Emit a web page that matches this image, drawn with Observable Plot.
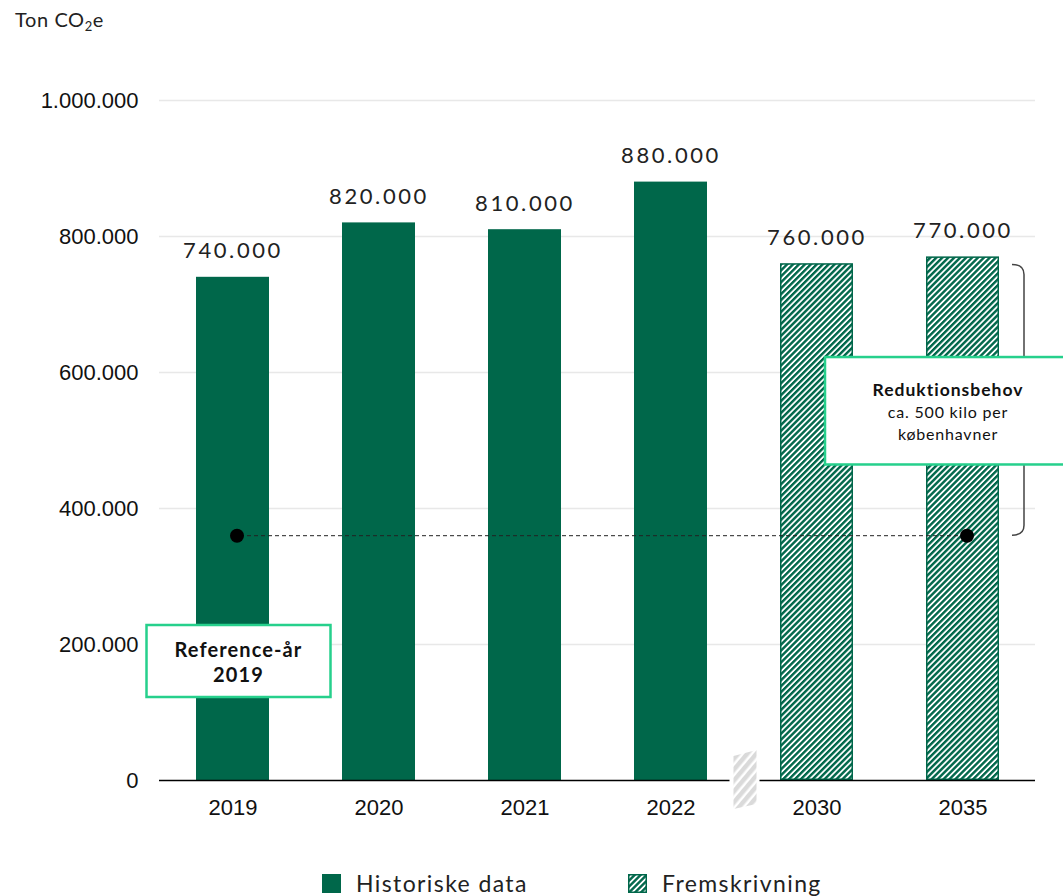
<!DOCTYPE html>
<html><head><meta charset="utf-8">
<script src="https://cdn.jsdelivr.net/npm/d3@7"></script>
<script src="https://cdn.jsdelivr.net/npm/@observablehq/plot@0.6"></script>
<style>
body{margin:0;background:#fff;overflow:hidden;}
#wrap{position:relative;width:1063px;height:896px;overflow:hidden;}
#title{position:absolute;left:15px;top:7px;font-family:Lato,"Open Sans",sans-serif;font-size:20px;color:#222;letter-spacing:0.6px;}
#title sub{font-size:13px;vertical-align:-4px;}
#chart{position:absolute;left:0;top:40px;}
.leg{position:absolute;top:869px;font-family:Lato,sans-serif;font-size:23px;color:#222;letter-spacing:1.4px;display:flex;align-items:center;}
.leg svg{margin-right:15px;}
</style></head>
<body><div id="wrap">
<div id="title">Ton CO<sub>2</sub>e</div>
<div id="chart"></div>
<div class="leg" style="left:322px"><svg width="19" height="19"><rect width="19" height="19" fill="#00674a"/></svg>Historiske data</div>
<div class="leg" style="left:628px"><svg width="19" height="19"><defs><pattern id="hatchL" patternUnits="userSpaceOnUse" width="4.2" height="4.2" patternTransform="rotate(45)"><rect width="4.2" height="4.2" fill="#fff"/><rect width="2.4" height="4.2" fill="#00674a"/></pattern></defs><rect x="0.75" y="0.75" width="17.5" height="17.5" fill="url(#hatchL)" stroke="#00674a" stroke-width="1.5"/></svg>Fremskrivning</div>
</div>
<script>
const years = ["2019","2020","2021","2022","2030","2035"];
const values = [740000, 820000, 810000, 880000, 760000, 770000];
const kinds = ["Historiske data","Historiske data","Historiske data","Historiske data","Fremskrivning","Fremskrivning"];
const yTicks = [0, 200000, 400000, 600000, 800000, 1000000];
const referenceLevel = 360000;
const referenceYears = ["2019", "2035"];
const refNote = ["Reference-år", "2019"];
const needNote = ["Reduktionsbehov", "ca. 500 kilo per", "københavner"];

const green = "#00674a";
const noteGreen = "#26d08c";
const axisFont = '"Liberation Sans", Arial, Helvetica, sans-serif';
const data = years.map((y, i) => ({year: y, value: values[i], kind: kinds[i]}));
const fmt = d3.formatLocale({decimal: ",", thousands: ".", grouping: [3], currency: ["", ""]}).format(",");

function bandX(s) {
  const ex = s.scales && s.scales.x;
  const apply = ex && ex.apply ? ex.apply : s.x;
  let bw = ex && ex.bandwidth != null ? ex.bandwidth : (typeof s.x.bandwidth === "function" ? s.x.bandwidth() : s.x.bandwidth);
  return {pos: v => apply(v), bw: +bw || 0};
}
function linY(s) {
  const ey = s.scales && s.scales.y;
  return ey && ey.apply ? ey.apply : s.y;
}

const defsMark = () => {
  const d = d3.create("svg:defs");
  const p = d.append("pattern").attr("id", "hatch").attr("patternUnits", "userSpaceOnUse")
    .attr("width", 4.2).attr("height", 4.2).attr("patternTransform", "rotate(45)");
  p.append("rect").attr("width", 4.2).attr("height", 4.2).attr("fill", "#fff");
  p.append("rect").attr("width", 2.4).attr("height", 4.2).attr("fill", green);
  const q = d.append("pattern").attr("id", "hatchGray").attr("patternUnits", "userSpaceOnUse")
    .attr("width", 7).attr("height", 7).attr("patternTransform", "rotate(40)");
  q.append("rect").attr("width", 7).attr("height", 7).attr("fill", "#fff");
  q.append("rect").attr("width", 4.5).attr("height", 7).attr("fill", "#dadada");
  return d.node();
};

const breakMark = (index, s) => {
  const {pos, bw} = bandX(s); const y = linY(s);
  const cx = (pos(years[3]) + bw + pos(years[4])) / 2 + 1;
  const y0 = y(0);
  const g = d3.create("svg:g");
  g.append("rect").attr("x", cx - 15).attr("y", y0 - 3).attr("width", 30).attr("height", 6).attr("fill", "#fff");
  g.append("path").attr("d", `M${cx - 11},${y0 - 24} L${cx + 12},${y0 - 30} L${cx + 12},${y0 + 24} L${cx - 11},${y0 + 29} Z`)
    .attr("fill", "url(#hatchGray)");
  return g.node();
};

const bracketMark = (index, s) => {
  const {pos, bw} = bandX(s); const y = linY(s);
  const x0 = pos(referenceYears[1]) + bw + 13, x1 = x0 + 12;
  const yt = y(values[5]) + 8, yb = y(referenceLevel);
  return d3.create("svg:path")
    .attr("d", `M${x0},${yt} Q${x1},${yt} ${x1},${yt + 10} L${x1},${yb - 10} Q${x1},${yb} ${x0},${yb}`)
    .attr("fill", "none").attr("stroke", "#444").attr("stroke-width", 1.5).node();
};

const notesMark = (index, s) => {
  const {pos, bw} = bandX(s); const y = linY(s);
  const g = d3.create("svg:g");
  const rcx = pos(years[0]) + bw / 2 + 6, rcy = y(175000);
  g.append("rect").attr("x", rcx - 92).attr("y", rcy - 36).attr("width", 184).attr("height", 72)
    .attr("fill", "#fff").attr("stroke", noteGreen).attr("stroke-width", 2.5);
  refNote.forEach((t, i) => g.append("text").attr("x", rcx).attr("y", rcy - 11 + i * 25).attr("dy", "0.35em")
    .attr("text-anchor", "middle").attr("font-family", "Lato, sans-serif").attr("font-weight", "bold")
    .attr("font-size", 20).attr("fill", "#111").attr("letter-spacing", 1.1).text(t));
  const left = pos(years[4]) + bw - 28;
  const top = y(622000), bottom = y(464000);
  g.append("rect").attr("x", left).attr("y", top).attr("width", 260).attr("height", bottom - top)
    .attr("fill", "#fff").attr("stroke", noteGreen).attr("stroke-width", 2.5);
  const ncx = left + 123;
  needNote.forEach((t, i) => g.append("text").attr("x", ncx).attr("y", top + 33 + i * 22).attr("dy", "0.35em")
    .attr("text-anchor", "middle").attr("font-family", "Lato, sans-serif")
    .attr("font-weight", i === 0 ? "bold" : "normal").attr("font-size", i === 0 ? 17.5 : 16).attr("fill", "#111")
    .attr("letter-spacing", i === 0 ? 1 : 0.8).text(t));
  return g.node();
};

const chart = Plot.plot({
  width: 1063, height: 800,
  marginTop: 60, marginBottom: 60, marginLeft: 159, marginRight: 28,
  style: {fontFamily: axisFont, fontSize: "18px", color: "#111", background: "#fff"},
  x: {domain: years, paddingInner: 0.5, paddingOuter: 0.25, label: null},
  y: {domain: [0, 1000000], label: null},
  marks: [
    defsMark,
    Plot.gridY(yTicks.slice(1), {stroke: "#e8e8e8", strokeOpacity: 1, strokeWidth: 1.5}),
    Plot.axisY(yTicks, {tickFormat: fmt, tickSize: 0, tickPadding: 21, fontSize: 22, fontFamily: axisFont, fill: "#111", label: null}),
    Plot.axisX(years, {tickSize: 0, tickPadding: 19, fontSize: 22, fontFamily: axisFont, fill: "#111", label: null}),
    Plot.barY(data.filter(d => d.kind === "Historiske data"), {x: "year", y: "value", fill: green}),
    Plot.barY(data.filter(d => d.kind === "Fremskrivning"), {x: "year", y: "value", fill: "url(#hatch)", stroke: green, strokeWidth: 1.5, inset: 0.75}),
    Plot.ruleY([0], {stroke: "#000", strokeWidth: 1.5}),
    breakMark,
    Plot.link([{a: referenceYears[0], b: referenceYears[1], v: referenceLevel}], {x1: "a", x2: "b", y1: "v", y2: "v", stroke: "#222", strokeWidth: 1, strokeDasharray: "4,3"}),
    Plot.dot(referenceYears.map(y => ({year: y, v: referenceLevel})), {x: "year", y: "v", r: 7, fill: "#000", dx: 4}),
    Plot.text(data, {x: "year", y: "value", text: d => fmt(d.value), dy: -26, fontSize: 22, fontFamily: "Lato, sans-serif", fill: "#222"}),
    bracketMark,
    notesMark
  ]
});
d3.select(chart).selectAll('g[aria-label="text"] text').attr("letter-spacing", 2.6);
document.getElementById("chart").append(chart);
</script>
</body></html>
